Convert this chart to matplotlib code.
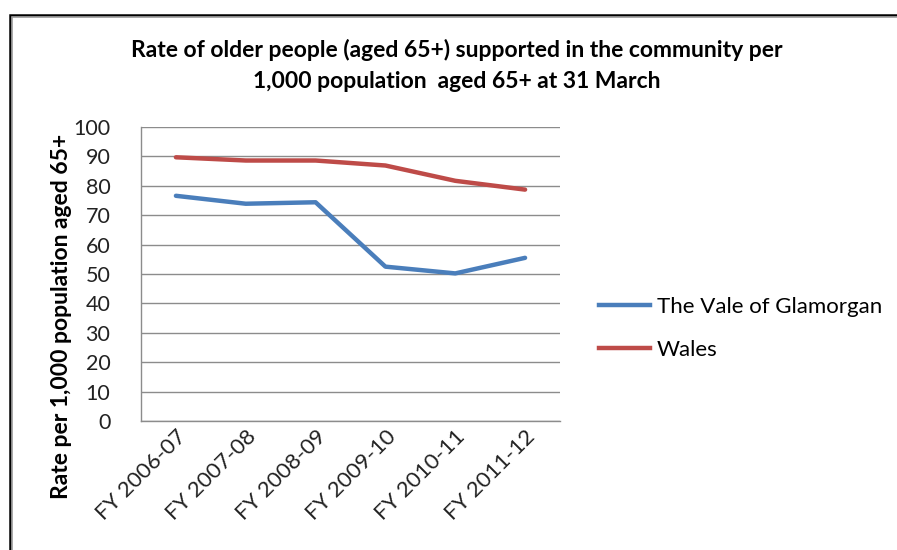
import matplotlib
matplotlib.use("Agg")
import matplotlib.pyplot as plt
from matplotlib.lines import Line2D
from matplotlib.patches import Rectangle

plt.rcParams['font.family'] = ['Lato', 'DejaVu Sans']

years = ["FY 2006-07", "FY 2007-08", "FY 2008-09", "FY 2009-10", "FY 2010-11", "FY 2011-12"]
vale = [76.6, 73.9, 74.4, 52.5, 50.2, 55.5]
wales = [89.7, 88.6, 88.6, 86.9, 81.7, 78.7]
yticks = [0, 10, 20, 30, 40, 50, 60, 70, 80, 90, 100]

blue = "#4a7ebb"
red = "#be4b48"

W, H = 897, 550
fig = plt.figure(figsize=(W / 100, H / 100), dpi=100)

# chart frame (outer dark line with a grey inner edge)
fig.patches.append(Rectangle((9.5 / W, -0.1), 1.2, (H - 14.5) / H + 0.1,
                             transform=fig.transFigure, fill=False,
                             edgecolor="#000000", linewidth=1.8, zorder=5))
fig.patches.append(Rectangle((12 / W, -0.1), 1.2, (H - 17) / H + 0.1,
                             transform=fig.transFigure, fill=False,
                             edgecolor="#9a9a9a", linewidth=1.2, zorder=5))

ax = fig.add_axes([141 / W, (H - 421) / H, 419 / W, 294 / H])
x = list(range(len(years)))
ax.plot(x, vale, color=blue, linewidth=3.2, solid_capstyle="round", label="The Vale of Glamorgan")
ax.plot(x, wales, color=red, linewidth=3.2, solid_capstyle="round", label="Wales")

ax.set_xlim(-0.5, len(years) - 0.5)
ax.set_ylim(0, 100)
ax.set_yticks(yticks)
ax.set_yticklabels([str(v) for v in yticks], fontsize=15.5, color="#222222")
ax.yaxis.grid(True, color="#8c8c8c", linewidth=1.0)
ax.set_axisbelow(True)
ax.tick_params(axis="y", length=0, pad=22)
ax.tick_params(axis="x", length=0, pad=4)
ax.set_xticks(x)
ax.set_xticklabels(years, rotation=45, ha="right", rotation_mode="anchor",
                   fontsize=16, color="#222222")

for side in ["top", "right"]:
    ax.spines[side].set_visible(False)
for side in ["left", "bottom"]:
    ax.spines[side].set_color("#8c8c8c")
    ax.spines[side].set_linewidth(1.0)

fig.text(62 / W, (H - 316) / H, "Rate per 1,000 population aged 65+",
         rotation=90, ha="center", va="center", fontsize=16.5, fontweight="bold")

fig.text(457 / W, (H - 50) / H,
         "Rate of older people (aged 65+) supported in the community per",
         ha="center", va="center", fontsize=16.5, fontweight="bold")
fig.text(457 / W, (H - 82) / H,
         "1,000 population  aged 65+ at 31 March",
         ha="center", va="center", fontsize=16.5, fontweight="bold")

handles = [Line2D([], [], color=blue, linewidth=3.2),
           Line2D([], [], color=red, linewidth=3.2)]
fig.legend(handles, ["The Vale of Glamorgan", "Wales"], loc="upper left",
           bbox_to_anchor=(581 / W, (H - 279) / H), frameon=False,
           fontsize=16, handlelength=2.3, handletextpad=0.3, labelspacing=1.05,
           borderpad=0.3)

fig.savefig("out.png", dpi=100, facecolor="white")
